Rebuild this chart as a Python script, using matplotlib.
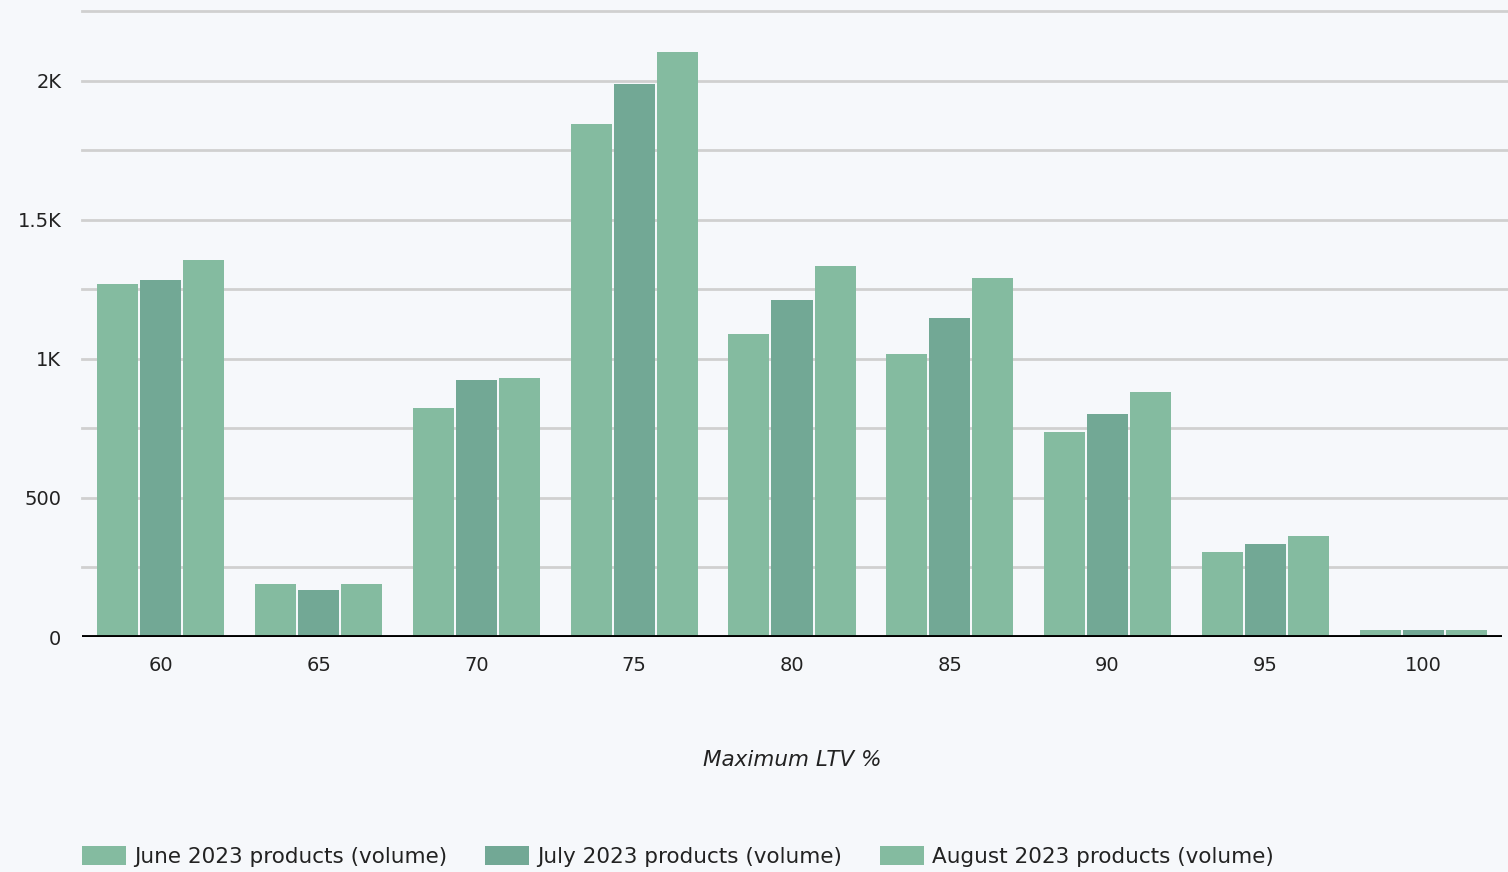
import matplotlib
matplotlib.use("Agg")
import matplotlib.pyplot as plt
import numpy as np

categories = ["60", "65", "70", "75", "80", "85", "90", "95", "100"]
june = [1270, 191, 824, 1845, 1090, 1018, 737, 306, 25]
july = [1284, 169, 924, 1989, 1212, 1147, 802, 335, 25]
august = [1356, 191, 932, 2104, 1335, 1291, 881, 363, 25]
series_names = ["June 2023 products (volume)", "July 2023 products (volume)",
                "August 2023 products (volume)"]
colors = ["#84BBA0", "#72A895", "#84BBA0"]
ytick_vals = [0, 500, 1000, 1500, 2000]
ytick_labels = ["0", "500", "1K", "1.5K", "2K"]

W, H = 1508, 872
bg = "#F6F8FB"
plt.rcParams['font.family'] = ['DejaVu Sans']
fig = plt.figure(figsize=(W / 100, H / 100), dpi=100, facecolor=bg)
ax = fig.add_axes([82 / W, 1 - 637 / H, (1502 - 82) / W, (637 - 11) / H])
ax.set_facecolor(bg)

x = np.arange(len(categories))
step = 43 / 157.75
bw = 41 / 157.75
handles = []
for i, (vals, c, name) in enumerate(zip([june, july, august], colors, series_names)):
    b = ax.bar(x + (i - 1) * step, vals, width=bw, color=c, label=name, zorder=3)
    handles.append(b)

ax.set_xlim(-0.5, len(categories) - 0.5)
ax.set_ylim(0, 2250)
for yv in np.arange(250, 2251, 250):
    ax.axhline(yv, xmin=0, xmax=(1508 - 82) / (1502 - 82), color="#D0D0D0",
               lw=2, zorder=1, clip_on=False)
ax.axhline(0, color="black", lw=2.8, zorder=4)

for s in ax.spines.values():
    s.set_visible(False)
ax.set_yticks(ytick_vals)
ax.set_yticklabels(ytick_labels, fontsize=14, color="#222222")
ax.set_xticks(x)
ax.set_xticklabels(categories, fontsize=14, color="#222222")
ax.tick_params(axis="y", length=0, pad=15)
ax.tick_params(axis="x", length=0, pad=14)
ax.set_xlabel("Maximum LTV %", fontsize=15.5, style="italic", color="#222222",
              labelpad=54)

fig.legend(handles=handles, labels=series_names, loc="lower left",
           bbox_to_anchor=(82 / W, 0.006), ncol=3, frameon=False,
           fontsize=15.5, handlelength=2.05, handleheight=1.0,
           handletextpad=0.38, columnspacing=1.75, borderaxespad=0,
           borderpad=0, labelcolor="#222222")

fig.savefig("out.png", dpi=100, facecolor=bg)
